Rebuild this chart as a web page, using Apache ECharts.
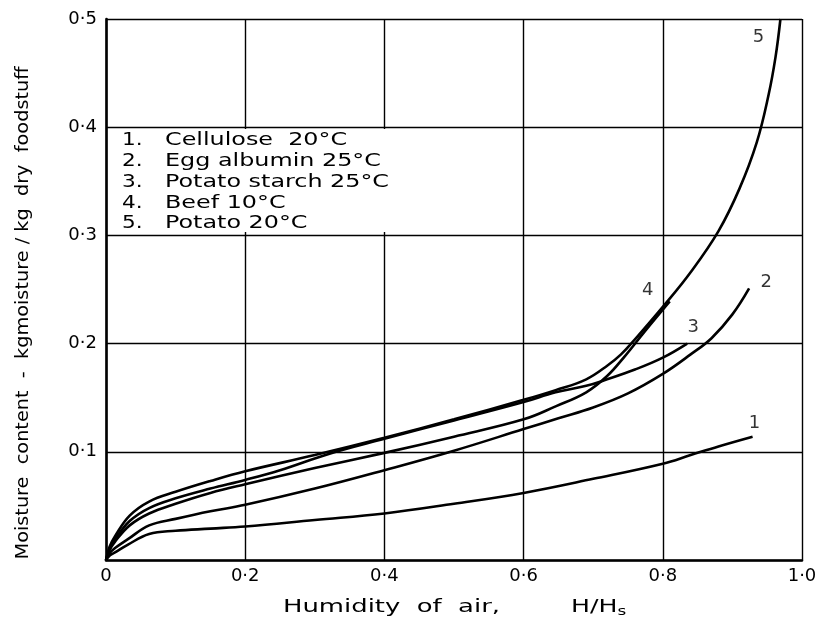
<!DOCTYPE html>
<html>
<head>
<meta charset="utf-8">
<script src="https://cdn.jsdelivr.net/npm/echarts@6/dist/echarts.min.js"></script>
<style>html,body{margin:0;padding:0;background:#fff}#c{width:838px;height:621px}</style>
</head>
<body>
<div id="c"></div>
<script>
// ---- data (x = H/Hs, y = kg moisture / kg dry foodstuff) ----
const cellulose = [[0,0],[0.005,0.004],[0.013,0.007],[0.031,0.014],[0.062,0.024],[0.1,0.027],[0.15,0.029],[0.2,0.031],[0.3,0.037],[0.4,0.043],[0.5,0.052],[0.6,0.062],[0.7,0.075],[0.8,0.089],[0.84,0.097],[0.88,0.105],[0.929,0.114]];
const eggAlbumin = [[0,0],[0.005,0.006],[0.013,0.011],[0.031,0.019],[0.062,0.032],[0.1,0.038],[0.15,0.045],[0.2,0.051],[0.3,0.066],[0.4,0.083],[0.5,0.101],[0.6,0.121],[0.65,0.131],[0.7,0.141],[0.75,0.154],[0.8,0.172],[0.84,0.19],[0.87,0.205],[0.9,0.227],[0.924,0.251]];
const potatoStarch = [[0,0],[0.005,0.01],[0.013,0.019],[0.034,0.036],[0.062,0.048],[0.1,0.057],[0.15,0.066],[0.2,0.074],[0.25,0.083],[0.32,0.098],[0.4,0.112],[0.5,0.129],[0.6,0.146],[0.646,0.155],[0.69,0.161],[0.72,0.167],[0.76,0.176],[0.8,0.187],[0.835,0.2]];
const beef = [[0,0],[0.005,0.009],[0.013,0.017],[0.034,0.032],[0.062,0.043],[0.1,0.052],[0.15,0.062],[0.2,0.07],[0.3,0.085],[0.4,0.099],[0.5,0.114],[0.6,0.13],[0.646,0.142],[0.69,0.155],[0.72,0.17],[0.745,0.188],[0.775,0.212],[0.81,0.239]];
const potato = [[0,0],[0.005,0.012],[0.013,0.022],[0.034,0.041],[0.062,0.054],[0.1,0.063],[0.15,0.073],[0.2,0.082],[0.3,0.097],[0.4,0.113],[0.5,0.13],[0.6,0.148],[0.646,0.157],[0.69,0.167],[0.721,0.18],[0.74,0.19],[0.76,0.204],[0.8,0.234],[0.84,0.266],[0.88,0.304],[0.91,0.343],[0.935,0.386],[0.952,0.43],[0.962,0.465],[0.969,0.5]];

const curveNames = ['1','2','3','4','5'];
const legendNumbers = ['1.','2.','3.','4.','5.'];
const legendTexts = ['Cellulose  20°C','Egg albumin 25°C','Potato starch 25°C','Beef 10°C','Potato 20°C'];
const xTicks = [0,0.2,0.4,0.6,0.8,1.0];
const yTicks = [0,0.1,0.2,0.3,0.4,0.5];
const xTitle = 'Humidity  of  air,';
const yTitle = 'Moisture  content  -  kgmoisture / kg  dry  foodstuff';

// ---- helpers ----
const FONT = '"DejaVu Sans", sans-serif';
const mctx = document.createElement('canvas').getContext('2d');
function measure(s, size){ mctx.font = size + 'px ' + FONT; return mctx.measureText(s).width; }
const fmt = v => v === 0 ? '0' : v.toFixed(1).replace('.', '·');

const curves = [cellulose, eggAlbumin, potatoStarch, beef, potato];
const labelOffsets = [[2,-13],[17,-6],[6,-16],[-22,-11],[-22,18]];

const series = curves.map((d, i) => ({
  type: 'line', name: curveNames[i], data: d, smooth: 0.4,
  showSymbol: false, symbol: 'none',
  lineStyle: { color: '#000', width: 2.6 }, z: 3, silent: true
}));
series.push({
  type: 'scatter', symbolSize: 1, itemStyle: { color: 'rgba(0,0,0,0)' }, silent: true, z: 4,
  data: curves.map((d, i) => ({
    value: d[d.length - 1],
    label: { show: true, formatter: curveNames[i], position: 'inside', offset: labelOffsets[i],
      color: '#000', fontSize: 18, fontFamily: FONT }
  }))
});

// legend layout
const legScale = 108 / measure('Cellulose', 18);
const legY = [140, 161, 182, 203, 223];
let legRight = 0;
legendTexts.forEach(t => { legRight = Math.max(legRight, 165 + measure(t, 18) * legScale); });
const graphics = [{
  type: 'rect', shape: { x: 108, y: 129, width: Math.min(legRight + 3, 386) - 108, height: 103 },
  style: { fill: '#fff' }, z: 2, silent: true
}];
legendTexts.forEach((t, i) => {
  graphics.push({ type: 'text', x: 122, y: legY[i], scaleX: 1.2, z: 5,
    style: { text: legendNumbers[i], fontSize: 18, fontFamily: FONT, fill: '#000', verticalAlign: 'middle', align: 'left' } });
  graphics.push({ type: 'text', x: 165, y: legY[i], scaleX: legScale, z: 5,
    style: { text: t, fontSize: 18, fontFamily: FONT, fill: '#000', verticalAlign: 'middle', align: 'left' } });
});
// axis titles
const xtScale = 217 / measure(xTitle, 18);
graphics.push({ type: 'text', x: 283, y: 607, scaleX: xtScale, z: 5,
  style: { text: xTitle, fontSize: 18, fontFamily: FONT, fill: '#000', verticalAlign: 'middle', align: 'left' } });
graphics.push({ type: 'text', x: 571, y: 607, scaleX: 1.4, z: 5,
  style: { text: '{n|H/H}{s|s}', fontSize: 18, fontFamily: FONT, fill: '#000', verticalAlign: 'middle', align: 'left',
    rich: { n: { fontSize: 18, fontFamily: FONT, fill: '#000', lineHeight: 22 },
            s: { fontSize: 12, fontFamily: FONT, fill: '#000', lineHeight: 22, padding: [10, 0, 0, 0] } } } });
const ytScale = 493 / measure(yTitle, 17);
graphics.push({ type: 'text', x: 24, y: 313, rotation: Math.PI / 2, scaleX: ytScale, z: 5,
  style: { text: yTitle, fontSize: 17, fontFamily: FONT, fill: '#000', verticalAlign: 'middle', align: 'center' } });

const chart = echarts.init(document.getElementById('c'), null, { renderer: 'canvas' });
chart.setOption({
  animation: false,
  backgroundColor: '#fff',
  grid: { left: 106, right: 36, top: 19, bottom: 61, containLabel: false },
  xAxis: {
    type: 'value', min: xTicks[0], max: xTicks[xTicks.length - 1], interval: 0.2,
    axisLine: { show: true, lineStyle: { color: '#000', width: 2.6 } },
    axisTick: { show: false },
    axisLabel: { formatter: fmt, color: '#000', fontSize: 18, fontFamily: FONT, margin: 7 },
    splitLine: { show: true, lineStyle: { color: '#000', width: 1.4 } }
  },
  yAxis: {
    type: 'value', min: yTicks[0], max: yTicks[yTicks.length - 1], interval: 0.1,
    axisLine: { show: true, lineStyle: { color: '#000', width: 2.6 } },
    axisTick: { show: false },
    axisLabel: { formatter: v => v === 0 ? '' : fmt(v), color: '#000', fontSize: 18, fontFamily: FONT, margin: 9 },
    splitLine: { show: true, lineStyle: { color: '#000', width: 1.4 } }
  },
  series: series,
  graphic: graphics
});
</script>
</body>
</html>
